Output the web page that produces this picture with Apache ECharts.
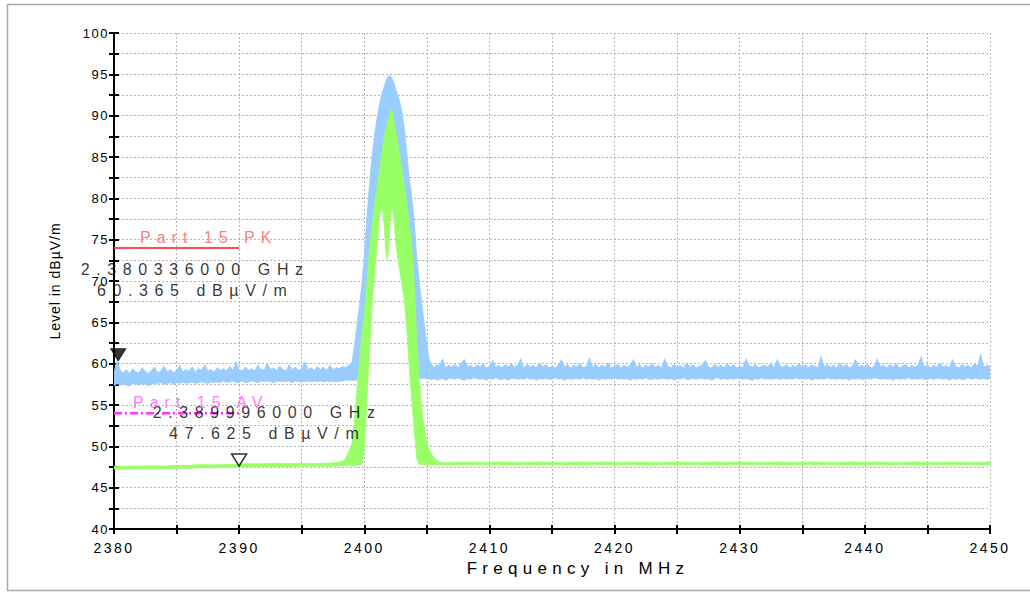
<!DOCTYPE html>
<html>
<head>
<meta charset="utf-8">
<script src="https://cdn.jsdelivr.net/npm/echarts@6.0.0/dist/echarts.min.js"></script>
<style>
html,body{margin:0;padding:0;background:#fff;}
#main{width:1030px;height:592px;}
</style>
</head>
<body>
<div id="main"></div>
<script>
// ---------------- DATA ----------------
const xMin = 2380, xMax = 2450;
const yMin = 40, yMax = 100;
const xName = 'Frequency in MHz';
const yName = 'Level in dBµV/m';

// Peak detector trace (blue): per-frequency lower / upper envelope of the trace
const blueFreq = [
2380,2380.25,2380.5,2380.75, 2381,2381.25,2381.5,2381.75, 2382,2382.25,2382.5,2382.75, 2383,2383.25,2383.5,2383.75,
2384,2384.25,2384.5,2384.75, 2385,2385.25,2385.5,2385.75, 2386,2386.25,2386.5,2386.75, 2387,2387.25,2387.5,2387.75,
2388,2388.25,2388.5,2388.75, 2389,2389.25,2389.5,2389.75, 2390,2390.25,2390.5,2390.75, 2391,2391.25,2391.5,2391.75,
2392,2392.25,2392.5,2392.75, 2393,2393.25,2393.5,2393.75, 2394,2394.25,2394.5,2394.75, 2395,2395.25,2395.5,2395.75,
2396,2396.25,2396.5,2396.75, 2397,2397.25,2397.5,2397.75, 2398,2398.25,2398.5,2398.75,
2399,2399.2,2399.4,2399.6,2399.8,2400,2400.2,2400.4,2400.6,2400.8,2401,2401.2,2401.4,2401.6,2401.8,2402,2402.2,2402.4,
2402.6,2402.8,2403,2403.2,2403.4,2403.6,2403.8,2404,2404.2,2404.4,2404.6,2404.8,2405,2405.2,2405.4,2405.6,2405.8,
2406,2406.25,2406.5,2406.75, 2407,2407.25,2407.5,2407.75, 2408,2408.25,2408.5,2408.75, 2409,2409.25,2409.5,2409.75,
2410,2410.25,2410.5,2410.75, 2411,2411.25,2411.5,2411.75, 2412,2412.25,2412.5,2412.75, 2413,2413.25,2413.5,2413.75,
2414,2414.25,2414.5,2414.75, 2415,2415.25,2415.5,2415.75, 2416,2416.25,2416.5,2416.75, 2417,2417.25,2417.5,2417.75,
2418,2418.25,2418.5,2418.75, 2419,2419.25,2419.5,2419.75, 2420,2420.25,2420.5,2420.75, 2421,2421.25,2421.5,2421.75,
2422,2422.25,2422.5,2422.75, 2423,2423.25,2423.5,2423.75, 2424,2424.25,2424.5,2424.75, 2425,2425.25,2425.5,2425.75,
2426,2426.25,2426.5,2426.75, 2427,2427.25,2427.5,2427.75, 2428,2428.25,2428.5,2428.75, 2429,2429.25,2429.5,2429.75,
2430,2430.25,2430.5,2430.75, 2431,2431.25,2431.5,2431.75, 2432,2432.25,2432.5,2432.75, 2433,2433.25,2433.5,2433.75,
2434,2434.25,2434.5,2434.75, 2435,2435.25,2435.5,2435.75, 2436,2436.25,2436.5,2436.75, 2437,2437.25,2437.5,2437.75,
2438,2438.25,2438.5,2438.75, 2439,2439.25,2439.5,2439.75, 2440,2440.25,2440.5,2440.75, 2441,2441.25,2441.5,2441.75,
2442,2442.25,2442.5,2442.75, 2443,2443.25,2443.5,2443.75, 2444,2444.25,2444.5,2444.75, 2445,2445.25,2445.5,2445.75,
2446,2446.25,2446.5,2446.75, 2447,2447.25,2447.5,2447.75, 2448,2448.25,2448.5,2448.75, 2449,2449.25,2449.5,2449.75,
2450
];
const blueHi = [
59.0,60.4,59.2,58.9, 59.3,58.8,59.4,59.0, 58.9,59.5,59.1,58.8, 59.2,59.6,58.9,59.1,
59.7,59.0,59.3,58.9, 59.2,59.8,59.0,59.3, 59.1,59.6,59.0,59.4, 59.2,59.9,59.1,59.3,
59.0,59.5,59.2,59.4, 59.1,59.7,59.2,60.2, 59.3,59.1,59.6,59.2, 59.4,59.1,59.8,59.3,
59.2,60.1,59.3,59.5, 59.2,59.7,59.3,59.1, 59.9,59.3,59.6,59.2, 59.4,60.2,59.3,59.5,
59.2,59.7,59.3,59.6, 59.2,59.8,59.3,59.5, 59.4,59.7,59.5,59.8,
60.0,62.0,64.5,66.8,69.5,73.0,77.5,81.5,84.8,87.5,89.5,91.3,92.6,93.6,94.5,94.9,94.6,93.8,
92.8,91.9,90.5,88.5,85.5,82.4,80.0,77.0,72.8,69.8,67.2,64.7,62.3,60.4,59.8,59.6,59.9,
59.7,60.6,59.5,59.8, 59.6,59.9,59.5,60.1, 60.5,59.6,59.8,59.5, 59.9,59.6,60.0,59.5,
59.7,60.4,59.6,59.8, 59.5,59.9,59.6,60.0, 59.6,59.8,60.6,59.5, 59.9,59.6,59.8,59.5,
60.1,59.6,59.9,59.5, 59.7,59.5,59.8,60.5, 59.6,59.9,59.5,59.8, 59.6,60.0,59.5,59.7,
60.7,59.6,59.9,59.5, 59.8,59.6,60.1,59.5, 59.7,59.9,59.5,59.8, 59.6,59.8,60.5,59.6,
59.9,59.5,59.8,59.6, 60.0,59.6,59.8,59.5, 60.6,59.7,59.5,59.9, 59.6,59.8,59.5,60.1,
59.6,59.9,59.5,59.7, 59.8,60.4,59.6,59.5, 59.9,59.6,59.8,59.5, 60.0,59.6,59.9,59.5,
59.7,59.5,60.6,59.8, 59.6,59.9,59.5,59.7, 59.8,59.6,60.1,59.5, 60.5,59.7,59.6,59.9,
59.5,59.8,59.6,60.0, 59.6,59.9,59.5,59.8, 59.7,59.5,60.9,59.6, 59.9,59.6,59.8,59.5,
60.1,59.6,59.9,59.5, 59.7,60.5,59.6,59.8, 59.6,59.9,59.5,59.7, 60.6,59.6,59.8,59.5,
59.9,59.6,60.0,59.5, 59.7,59.9,59.5,59.8, 59.6,59.8,60.9,59.6, 59.9,59.5,59.8,59.6,
60.1,59.6,59.8,59.5, 60.5,59.7,59.5,59.9, 59.6,59.8,59.5,60.0, 59.7,61.2,59.6,59.8,
59.7
];
const blueLo = [
57.3,57.6,57.4,57.5, 57.4,57.3,57.6,57.5, 57.4,57.6,57.5,57.3, 57.6,57.5,57.6,57.7,
57.5,57.6,57.7,57.5, 57.7,57.6,57.8,57.6, 57.7,57.8,57.6,57.7, 57.8,57.7,57.6,57.8,
57.7,57.8,57.7,57.9, 57.7,57.8,57.9,57.7, 57.8,57.9,57.7,57.8, 57.9,57.8,57.7,57.9,
57.8,57.9,57.8,57.7, 57.9,57.8,57.9,57.8, 57.9,57.7,57.9,57.8, 57.9,57.8,57.9,57.8,
57.9,57.8,57.9,57.8, 57.9,57.8,57.9,57.8, 57.9,57.9,58.0,58.0,
58.0,58.0,58.0,58.5,62.0,64.5,68.0,72.0,75.0,77.5,79.5,82.0,84.0,86.0,87.5,88.5,89.0,87.5,
86.0,84.0,82.0,80.0,78.0,75.5,72.5,68.0,61.0,58.2,58.2,58.2,58.2,58.1,58.1,58.2,58.0,
58.1,58.2,58.0,58.2, 58.2,58.1,58.3,58.1, 58.0,58.2,58.1,58.3, 58.2,58.1,58.2,58.0,
58.2,58.1,58.3,58.1, 58.1,58.2,58.0,58.2, 58.2,58.1,58.2,58.1, 58.3,58.1,58.2,58.0,
58.2,58.1,58.2,58.1, 58.1,58.3,58.1,58.2, 58.0,58.2,58.1,58.2, 58.2,58.1,58.3,58.1,
58.2,58.1,58.2,58.0, 58.2,58.1,58.2,58.1, 58.3,58.1,58.2,58.1, 58.2,58.0,58.2,58.1,
58.2,58.1,58.3,58.1, 58.1,58.2,58.1,58.2, 58.2,58.1,58.2,58.0, 58.2,58.1,58.3,58.1,
58.1,58.2,58.1,58.2, 58.2,58.1,58.2,58.0, 58.2,58.3,58.1,58.2, 58.1,58.2,58.1,58.2,
58.2,58.1,58.2,58.1, 58.0,58.2,58.1,58.3, 58.1,58.2,58.1,58.2, 58.2,58.1,58.2,58.1,
58.2,58.1,58.3,58.1, 58.2,58.1,58.2,58.0, 58.2,58.1,58.2,58.1, 58.3,58.1,58.2,58.1,
58.2,58.1,58.2,58.0, 58.2,58.1,58.2,58.1, 58.1,58.2,58.1,58.3, 58.2,58.1,58.2,58.1,
58.2,58.0,58.2,58.1, 58.2,58.1,58.3,58.1, 58.2,58.1,58.2,58.1, 58.1,58.2,58.1,58.2,
58.2,58.1,58.2,58.0, 58.2,58.1,58.2,58.1, 58.1,58.3,58.1,58.2, 58.2,58.1,58.2,58.1,
58.2
];

// Average detector trace (green): per-frequency lower / upper envelope of the trace
const greenFreq = [
2380,2381,2382,2383,2384,2385,2386,2387,2388,2389,2390,2391,2392,2393,2394,2395,2396,2397,
2397.5,2398,2398.2,2398.4,2398.6,2398.8,
2399,2399.2,2399.4,2399.6,2399.8,2400,2400.2,2400.4,2400.6,2400.8,2401,2401.2,
2401.3,2401.4,2401.5,2401.6,2401.7,2401.8,2401.9,2402,2402.1,2402.2,2402.3,2402.4,2402.5,2402.6,
2402.8,2403,2403.2,2403.4,2403.6,2403.8,2404,2404.2,2404.4,2404.6,2404.8,2405,2405.2,2405.4,2405.6,2405.8,2406,
2406.3,2406.6,
2407,2408,2409,2410,2411,2412,2413,2414,2415,2416,2417,2418,2419,2420,2421,2422,2423,2424,2425,2426,2427,2428,
2429,2430,2431,2432,2433,2434,2435,2436,2437,2438,2439,2440,2441,2442,2443,2444,2445,2446,2447,2448,2449,2450
];
const greenHi = [
47.6,47.6,47.6,47.65,47.6,47.7,47.7,47.8,47.75,47.8,47.85,47.9,47.9,47.95,47.9,47.95,47.9,47.95,
48.0,48.1,48.2,48.3,48.8,49.5,
50.2,52.8,56.5,60.0,63.5,66.0,69.5,73.5,76.3,79.0,81.2,83.4,
84.4,85.5,86.5,87.5,88.2,88.8,89.5,90.1,90.6,90.7,90.0,89.1,88.3,87.5,
85.5,83.4,81.4,79.4,76.8,74.0,69.5,62.5,58.4,54.4,52.2,50.4,49.6,49.0,48.6,48.3,48.15,
48.05,48.0,
48.05,48.1,48.05,48.05,48.1,48.05,48.05,48.1,48.05,48.05,48.1,
48.05,48.1,48.05,48.05,48.1,48.05,48.05,48.1,48.05,48.05,48.1,
48.05,48.1,48.05,48.05,48.1,48.05,48.05,48.1,48.05,48.05,48.1,
48.05,48.1,48.05,48.05,48.1,48.05,48.05,48.1,48.05,48.05,48.1
];
const greenLo = [
47.25,47.25,47.3,47.3,47.3,47.35,47.35,47.4,47.4,47.45,47.5,47.5,47.55,47.55,47.55,47.6,47.6,47.6,
47.6,47.65,47.65,47.7,47.7,47.7,
47.7,47.7,47.7,47.75,47.8,49.5,55.5,61.0,66.5,70.5,74.0,77.5,
78.5,78.8,78.2,76.5,74.0,72.7,73.2,75.5,77.8,79.0,78.5,77.0,75.0,73.5,
71.5,69.7,67.6,64.0,59.3,55.5,51.8,48.5,47.8,47.8,47.8,47.8,47.8,47.8,47.8,47.8,47.8,
47.75,47.75,
47.75,47.8,47.75,47.8,47.75,47.75,47.8,47.75,47.8,47.75,47.75,
47.75,47.8,47.75,47.8,47.75,47.75,47.8,47.75,47.8,47.75,47.75,
47.75,47.8,47.75,47.8,47.75,47.75,47.8,47.75,47.8,47.75,47.75,
47.75,47.8,47.75,47.8,47.75,47.75,47.8,47.75,47.8,47.75,47.75
];

// Limit lines
const limitNames = ['Part 15 PK', 'Part 15 AV'];
const limitLevels = [74, 54];
const limitStart = 2380, limitEnd = 2390;

// Markers (frequency in MHz, level in dBµV/m)
const markerFreq = [2380.336, 2389.996];
const markerLevel = [60.365, 47.625];

// ---------------- CHART ----------------
const FONT = '"Liberation Sans", Arial, sans-serif';
const BLUE = '#99ccff', GREEN = '#99ff66';
const chart = echarts.init(document.getElementById('main'), null, { renderer: 'svg' });

// A trace drawn as the filled band between its lower and upper envelope
function bandSeries(freq, lo, hi, color) {
  return {
    type: 'custom', silent: true, z: 2, clip: true,
    data: freq.map((f, i) => [f, lo[i], hi[i]]),
    encode: { x: 0, y: [1, 2] },
    renderItem: function (params, api) {
      if (params.dataIndex !== 0) return null;
      const pts = [];
      for (let i = 0; i < freq.length; i++) pts.push(api.coord([freq[i], hi[i]]));
      for (let i = freq.length - 1; i >= 0; i--) pts.push(api.coord([freq[i], lo[i]]));
      return { type: 'polygon', shape: { points: pts },
        style: { fill: color, stroke: color, lineWidth: 0.8 } };
    }
  };
}

const gridLine = { show: true, lineStyle: { color: '#b4b4b4', width: 1, type: [2, 2] } };
const tickStyle = { color: '#000', width: 2 };

const option = {
  animation: false,
  backgroundColor: '#ffffff',
  tooltip: { show: false },
  grid: { left: 114, top: 33, width: 876, height: 496, outerBoundsMode: 'none', containLabel: false },
  graphic: [{
    type: 'rect', silent: true, z: -10,
    shape: { x: 7.5, y: 4.5, width: 1040, height: 586 },
    style: { fill: 'none', stroke: '#a8a8a8', lineWidth: 1.5 }
  }],
  xAxis: [{
    type: 'value', min: xMin, max: xMax, interval: 5,
    name: xName, nameLocation: 'middle', nameGap: 30,
    nameTextStyle: { fontFamily: FONT, fontSize: 17, color: '#000', padding: [0, 0, 0, 52] },
    axisLine: { show: true, onZero: false, lineStyle: { color: '#000', width: 2 } },
    axisTick: { show: true, inside: false, length: 5, lineStyle: tickStyle },
    axisLabel: { show: true, margin: 12, fontFamily: FONT, fontSize: 14, color: '#000',
      formatter: v => (Math.round(v) % 10 === 0 ? String(Math.round(v)) : '') },
    splitLine: gridLine
  }, {
    type: 'value', min: xMin, max: xMax, interval: 5, position: 'bottom',
    axisLine: { show: false },
    axisTick: { show: true, inside: true, length: 4, lineStyle: tickStyle },
    axisLabel: { show: false }, splitLine: { show: false }
  }],
  yAxis: [{
    type: 'value', min: yMin, max: yMax, interval: 2.5,
    name: yName, nameLocation: 'middle', nameGap: 52, nameRotate: 90,
    nameTextStyle: { fontFamily: FONT, fontSize: 14, color: '#000' },
    axisLine: { show: true, onZero: false, lineStyle: { color: '#000', width: 2 } },
    axisTick: { show: true, inside: false, length: 5, lineStyle: tickStyle },
    axisLabel: { show: true, margin: 5, fontFamily: FONT, fontSize: 13, color: '#000',
      formatter: v => (v % 5 === 0 ? String(v) : '') },
    splitLine: gridLine
  }, {
    type: 'value', min: yMin, max: yMax, interval: 2.5, position: 'left',
    axisLine: { show: false },
    axisTick: { show: true, inside: true, length: 5, lineStyle: tickStyle },
    axisLabel: { show: false }, splitLine: { show: false }
  }],
  series: [
    bandSeries(blueFreq, blueLo, blueHi, BLUE),
    bandSeries(greenFreq, greenLo, greenHi, GREEN),
    { type: 'line', symbol: 'none', silent: true, z: 5,
      data: [[limitStart, limitLevels[0]], [limitEnd, limitLevels[0]]],
      lineStyle: { color: '#ff4d4d', width: 2 } },
    { type: 'line', symbol: 'none', silent: true, z: 5,
      data: [[limitStart, limitLevels[1]], [limitEnd, limitLevels[1]]],
      lineStyle: { color: '#ff33ff', width: 2.5, type: [8, 3, 2, 3] } },
    { type: 'scatter', silent: true, z: 6,
      symbol: 'path://M0,0L16,0L8,12Z', symbolSize: [15, 12], symbolOffset: [0, -6],
      data: [
        { value: [markerFreq[0], markerLevel[0]], itemStyle: { color: '#000', borderColor: '#000', borderWidth: 1 } },
        { value: [markerFreq[1], markerLevel[1]], itemStyle: { color: '#fff', borderColor: '#000', borderWidth: 1.5 } }
      ] },
    { type: 'scatter', silent: true, z: 7, symbolSize: 1, itemStyle: { color: 'rgba(0,0,0,0)' },
      label: { show: true, position: 'inside', fontFamily: FONT, fontSize: 16, lineHeight: 21,
        color: '#000', align: 'center', verticalAlign: 'middle',
        formatter: p => (p.value[0] / 1000).toFixed(9) + ' GHz\n' + p.value[1].toFixed(3) + ' dBµV/m' },
      data: [
        { value: [markerFreq[0], markerLevel[0]], label: { offset: [77, -81] } },
        { value: [markerFreq[1], markerLevel[1]], label: { offset: [28, -43] } }
      ] },
    { type: 'scatter', silent: true, z: 7, symbolSize: 1, itemStyle: { color: 'rgba(0,0,0,0)' },
      label: { show: true, position: 'inside', fontFamily: FONT, fontSize: 16,
        align: 'left', verticalAlign: 'middle', formatter: p => p.name },
      data: [
        { name: limitNames[0], value: [limitStart, limitLevels[0]], label: { offset: [26, -10], color: '#ff5a5a' } },
        { name: limitNames[1], value: [limitStart, limitLevels[1]], label: { offset: [19, -11], color: '#ff55ff' } }
      ] }
  ]
};

chart.setOption(option);

function applySpacing() {
  document.querySelectorAll('#main svg text').forEach(function (t) {
    const s = (t.textContent || '').trim();
    let ls = null;
    if (/^\d{4}$/.test(s)) ls = 2.5;
    else if (/^\d{2,3}$/.test(s)) ls = 1.5;
    else if (s === xName) ls = 5.3;
    else if (s === yName) ls = 1;
    else if (s.indexOf('Part') === 0) ls = 6;
    else if (/GHz|dB/.test(s)) ls = 6.6;
    if (ls !== null) t.setAttribute('letter-spacing', ls + 'px');
  });
}
try { chart.getZr().flush(); } catch (e) {}
applySpacing();
chart.on('finished', applySpacing);
setTimeout(applySpacing, 30);
setTimeout(applySpacing, 200);
</script>
</body>
</html>
